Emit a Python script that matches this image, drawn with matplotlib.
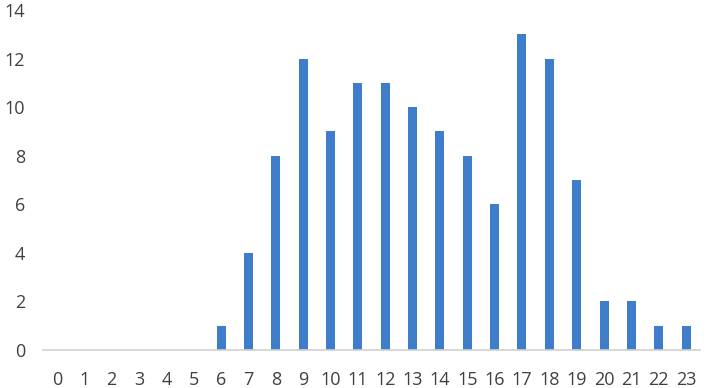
import matplotlib.pyplot as plt

# hours of the day and counts per hour
hours = list(range(24))
counts = [0, 0, 0, 0, 0, 0, 1, 4, 8, 12, 9, 11, 11, 10, 9, 8, 6, 13, 12, 7, 2, 2, 1, 1]
y_ticks = [0, 2, 4, 6, 8, 10, 12, 14]

plt.rcParams['font.family'] = ['Open Sans', 'DejaVu Sans']

fig = plt.figure(figsize=(7.09, 3.88), dpi=100)
ax = fig.add_axes([0.061, 0.098, 0.926, 0.876])

ax.bar(hours, counts, width=0.33, color='#3d7dca')

ax.set_xlim(-0.5, 23.5)
ax.set_ylim(0, 14)
ax.set_xticks(hours)
ax.set_xticklabels([str(h) for h in hours])
ax.set_yticks(y_ticks)

for side in ['top', 'right', 'left']:
    ax.spines[side].set_visible(False)
ax.spines['bottom'].set_color('#d0d0d0')
ax.spines['bottom'].set_linewidth(1.2)
ax.tick_params(axis='both', length=0, labelsize=13, colors='#404040')
ax.tick_params(axis='x', pad=15)
ax.tick_params(axis='y', pad=13)

fig.savefig('out.png', dpi=100)
